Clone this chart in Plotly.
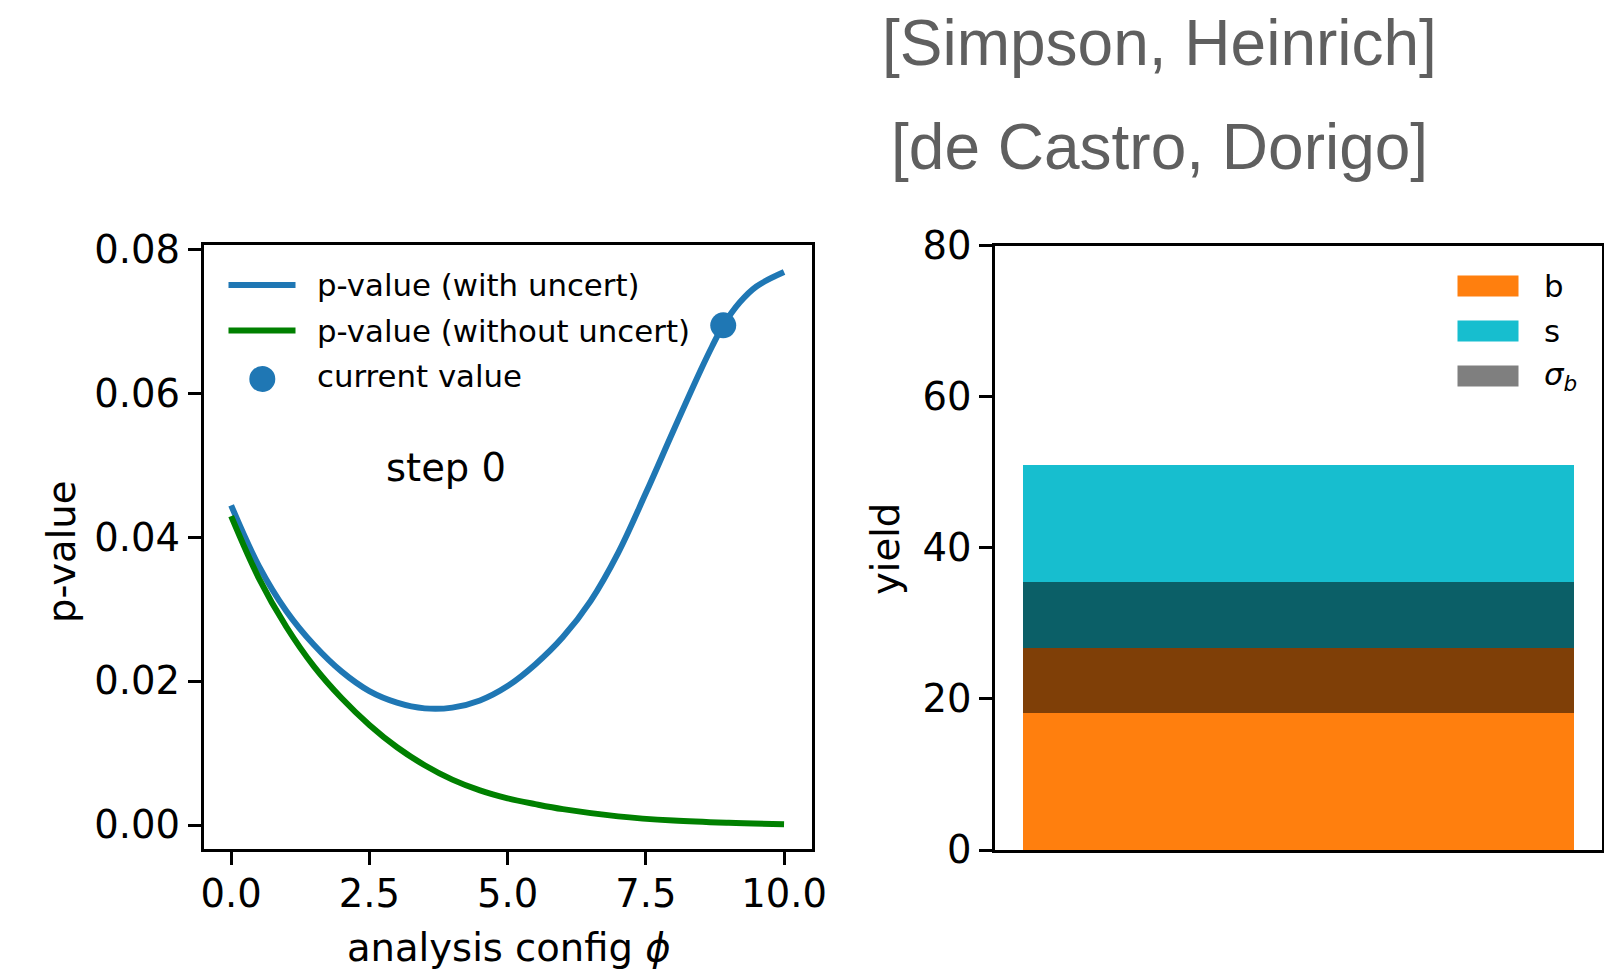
import plotly.graph_objects as go

W, H = 1604, 974

# p-value as a function of the analysis configuration phi
phi_with = [0.0, 0.5, 1.0, 1.5, 2.0, 2.5, 3.0, 3.5, 4.0, 4.5, 5.0, 5.5, 6.0,
            6.5, 7.0, 7.5, 8.0, 8.5, 8.7, 8.9, 9.2, 9.5, 10.0]
pval_with = [0.0444, 0.0360, 0.0297, 0.0250, 0.0213, 0.0186, 0.0170, 0.0162,
             0.0163, 0.0173, 0.0193, 0.0223, 0.0261, 0.0311, 0.0378, 0.0461,
             0.0548, 0.0633, 0.0665, 0.0694, 0.0726, 0.0748, 0.0768]

phi_without = [0.0, 0.5, 1.0, 1.5, 2.0, 2.5, 3.0, 3.5, 4.0, 4.5, 5.0, 5.5,
               6.0, 7.0, 8.0, 9.0, 10.0]
pval_without = [0.0429, 0.0343, 0.0275, 0.0220, 0.0176, 0.0139, 0.0108,
                0.0083, 0.0063, 0.0048, 0.0037, 0.0029, 0.0022, 0.0012,
                0.00062, 0.0003, 0.0001]

current_phi = [8.9]
current_pval = [0.0694]

phi_ticks = [0.0, 2.5, 5.0, 7.5, 10.0]
pval_ticks = [0.00, 0.02, 0.04, 0.06, 0.08]

# yields in the single bin
bkg = [26.85]
sig = [24.15]
bkg_unc = [8.65]
yield_ticks = [0, 20, 40, 60, 80]

BLUE = "#1f77b4"
GREEN = "#008000"
ORANGE = "#ff7f0e"
CYAN = "#17becf"
SHADE = "rgba(0,0,0,0.5)"
FONT = "DejaVu Sans"
FS = 38.5
LEG_FS = 30.8
LW = 2.9


def px(x):
    return x / W


def py(y):
    return 1 - y / H


fig = go.Figure()

fig.add_trace(go.Scatter(x=phi_with, y=pval_with, mode="lines",
                         line=dict(color=BLUE, width=6, shape="spline",
                                   smoothing=1.0),
                         xaxis="x", yaxis="y", showlegend=False))
fig.add_trace(go.Scatter(x=phi_without, y=pval_without, mode="lines",
                         line=dict(color=GREEN, width=6, shape="spline",
                                   smoothing=1.0),
                         xaxis="x", yaxis="y", showlegend=False))
fig.add_trace(go.Scatter(x=current_phi, y=current_pval, mode="markers",
                         marker=dict(color=BLUE, size=26, line=dict(width=0)),
                         xaxis="x", yaxis="y", showlegend=False))

fig.add_trace(go.Bar(x=[0], y=bkg, base=[0], width=0.8,
                     marker=dict(color=ORANGE, line=dict(width=0)),
                     xaxis="x2", yaxis="y2", showlegend=False))
fig.add_trace(go.Bar(x=[0], y=sig, base=bkg, width=0.8,
                     marker=dict(color=CYAN, line=dict(width=0)),
                     xaxis="x2", yaxis="y2", showlegend=False))
fig.add_trace(go.Bar(x=[0], y=[2 * u for u in bkg_unc],
                     base=[b - u for b, u in zip(bkg, bkg_unc)], width=0.8,
                     marker=dict(color=SHADE, line=dict(width=0)),
                     xaxis="x2", yaxis="y2", showlegend=False))

axis_style = dict(showline=True, linewidth=LW, linecolor="black", mirror=True,
                  showgrid=False, zeroline=False, automargin=False,
                  ticklen=12.8, tickwidth=LW, tickcolor="black",
                  tickfont=dict(family=FONT, size=FS, color="black"))

fig.update_layout(
    width=W, height=H,
    margin=dict(l=0, r=0, t=0, b=0, autoexpand=False),
    paper_bgcolor="white", plot_bgcolor="white",
    barmode="overlay", bargap=0,
    xaxis=dict(domain=[px(203.5), px(811.7)], range=[-0.5, 10.5],
               tickvals=phi_ticks, tickformat=".1f", anchor="y",
               ticks="outside", ticklabelstandoff=-4, **axis_style),
    yaxis=dict(domain=[py(849.3), py(245)], range=[-0.003375, 0.08056],
               tickvals=pval_ticks, tickformat=".2f", anchor="x",
               ticks="outside", **axis_style),
    xaxis2=dict(domain=[px(995), px(1602)], range=[-0.44, 0.44],
                anchor="y2", showticklabels=False, ticks="", **axis_style),
    yaxis2=dict(domain=[py(850), py(245.5)], range=[0, 80],
                tickvals=yield_ticks, anchor="x2", ticks="outside",
                **axis_style),
)

annotations = []
shapes = []

# header references
for text, yc in (("[Simpson, Heinrich]", 43), ("[de Castro, Dorigo]", 147)):
    annotations.append(dict(text=text, x=px(1159), y=py(yc), xref="paper",
                            yref="paper", showarrow=False, xanchor="center",
                            yanchor="middle",
                            font=dict(family="Liberation Sans", size=64,
                                      color="#5f5f5f")))

# axis titles
annotations.append(dict(text="p-value", x=px(61), y=py(552), xref="paper",
                        yref="paper", showarrow=False, textangle=-90,
                        xanchor="center", yanchor="middle",
                        font=dict(family=FONT, size=FS, color="black")))
annotations.append(dict(text="analysis config <i>ϕ</i>", x=px(509), y=py(947),
                        xref="paper", yref="paper", showarrow=False,
                        xanchor="center", yanchor="middle",
                        font=dict(family=FONT, size=FS, color="black")))
annotations.append(dict(text="yield", x=px(885), y=py(549), xref="paper",
                        yref="paper", showarrow=False, textangle=-90,
                        xanchor="center", yanchor="middle",
                        font=dict(family=FONT, size=FS, color="black")))

# step label inside the p-value panel
annotations.append(dict(text="step 0", x=3.88, y=0.0496, xref="x", yref="y",
                        showarrow=False, xanchor="center", yanchor="middle",
                        font=dict(family=FONT, size=FS, color="black")))

# legend of the p-value panel
left_legend = [("line", BLUE, "p-value (with uncert)", 285),
               ("line", GREEN, "p-value (without uncert)", 330.5),
               ("dot", BLUE, "current value", 376)]
for kind, color, label, yc in left_legend:
    if kind == "line":
        shapes.append(dict(type="line", xref="paper", yref="paper",
                           x0=px(228.5), x1=px(295.5), y0=py(yc), y1=py(yc),
                           line=dict(color=color, width=6)))
    else:
        r = 13
        shapes.append(dict(type="circle", xref="paper", yref="paper",
                           x0=px(262.3 - r), x1=px(262.3 + r),
                           y0=py(yc + 3 - r), y1=py(yc + 3 + r),
                           fillcolor=color, line=dict(width=0)))
    annotations.append(dict(text=label, x=px(315), y=py(yc), xref="paper",
                            yref="paper", showarrow=False, xanchor="left",
                            yanchor="middle",
                            font=dict(family=FONT, size=LEG_FS,
                                      color="black")))

# legend of the yield panel
right_legend = [(ORANGE, "b", 286), (CYAN, "s", 331),
                (SHADE, "<i>σ</i><sub><i>b</i></sub>", 376)]
for color, label, yc in right_legend:
    shapes.append(dict(type="rect", xref="paper", yref="paper",
                       x0=px(1457.5), x1=px(1518.5),
                       y0=py(yc + 10.5), y1=py(yc - 10.5),
                       fillcolor=color, line=dict(width=0)))
    annotations.append(dict(text=label, x=px(1542), y=py(yc), xref="paper",
                            yref="paper", showarrow=False, xanchor="left",
                            yanchor="middle",
                            font=dict(family=FONT, size=LEG_FS,
                                      color="black")))

fig.update_layout(annotations=annotations, shapes=shapes)

fig.write_html("out.html")
